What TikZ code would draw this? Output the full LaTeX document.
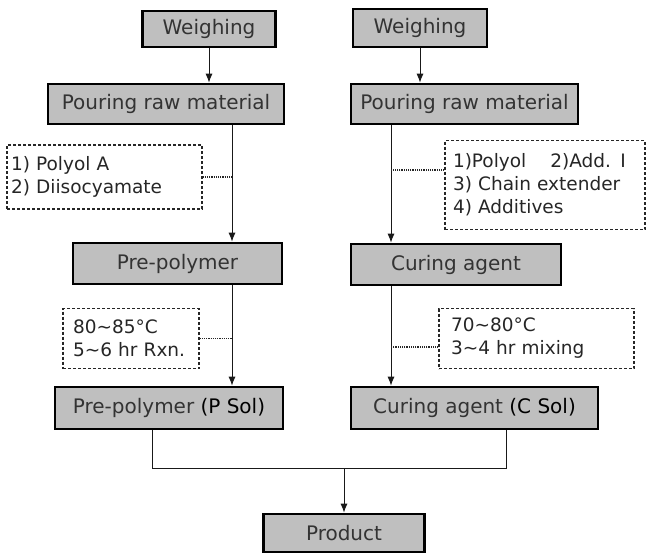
\documentclass[tikz,border=0pt]{standalone}
\usepackage{fontspec}
\setmainfont{DejaVu Sans}
\usetikzlibrary{arrows.meta}

\tikzset{
	stage/.style={draw=black,line width=2.6pt,fill=black!25,inner sep=0pt,text=black!80,font=\fontsize{20}{24}\selectfont},
	note/.style={draw=black!85,densely dashed,line width=1.2pt,fill=white,inner xsep=10pt,inner ysep=0pt,align=left,text=black!85,font=\fontsize{18.5}{23}\selectfont},
	flow/.style={draw=black!90,line width=1pt,-{Latex[length=9pt,width=7pt]}},
	joint/.style={draw=black!90,line width=1pt},
	link/.style={draw=black!85,line width=1.2pt,densely dotted},
}

\begin{document}
\begin{tikzpicture}[x=1pt,y=-1pt]
	\useasboundingbox (0,0) rectangle (648,554);
	% columns
	\coordinate (colP) at (232,0);
	\coordinate (colC) at (391,0);
	\coordinate (mergeL) at (152,468);
	\coordinate (mergeR) at (506,468);

	% pre-polymer side
	\node[stage,minimum width=133pt,minimum height=36pt] (weighP) at (209,29) {Weighing};
	\node[stage,minimum width=236pt,minimum height=40pt] (pourP) at (166,104) {Pouring raw material};
	\node[note,text width=187pt,minimum height=64pt,inner xsep=4pt] (noteP1) at (104.5,177) {1) Polyol A\\2) Diisocyamate};
	\node[stage,minimum width=209pt,minimum height=41pt] (preP) at (177.5,263.5) {Pre-polymer};
	\node[note,text width=116pt,minimum height=60pt] (noteP2) at (131,338.5) {80∼85°C\\5∼6 hr Rxn.};
	\node[stage,minimum width=228pt,minimum height=42pt] (solP) at (169,408) {Pre-polymer \textcolor{black}{(P Sol)}};

	% curing agent side
	\node[stage,minimum width=134pt,minimum height=38pt] (weighC) at (420,28) {Weighing};
	\node[stage,minimum width=227pt,minimum height=40pt] (pourC) at (464.5,104) {Pouring raw material};
	\node[note,text width=184pt,minimum height=89pt,inner xsep=8pt] (noteC1) at (545,185) {1)Polyol\hspace{1.3em}2)Add. I\\3) Chain extender\\4) Additives};
	\node[stage,minimum width=210pt,minimum height=41pt] (cureC) at (456,264.5) {Curing agent};
	\node[note,text width=171pt,minimum height=60pt,inner xsep=12pt] (noteC2) at (536.5,338.5) {70∼80°C\\3∼4 hr mixing};
	\node[stage,minimum width=247pt,minimum height=42pt] (solC) at (474.5,408) {Curing agent \textcolor{black}{(C Sol)}};

	\node[stage,minimum width=161pt,minimum height=38pt] (prod) at (344,533) {Product};

	% connectors
	\draw[flow] (weighP.south) -- (weighP.south |- pourP.north);
	\draw[flow] (pourP.south -| colP) -- (preP.north -| colP);
	\draw[flow] (preP.south -| colP) -- (solP.north -| colP);
	\draw[link] (noteP1.east) -- (noteP1.east -| colP);
	\draw[link] (noteP2.east) -- (noteP2.east -| colP);

	\draw[flow] (weighC.south) -- (weighC.south |- pourC.north);
	\draw[flow] (pourC.south -| colC) -- (cureC.north -| colC);
	\draw[flow] (cureC.south -| colC) -- (solC.north -| colC);
	\draw[link] (noteC1.west |- 0,170) -- (colC |- 0,170);
	\draw[link] (noteC2.west |- 0,347) -- (colC |- 0,347);

	\draw[joint] (solP.south -| mergeL) -- (mergeL) -- (mergeR) -- (solC.south -| mergeR);
	\draw[flow] (prod.north |- mergeL) -- (prod.north);
\end{tikzpicture}
\end{document}
